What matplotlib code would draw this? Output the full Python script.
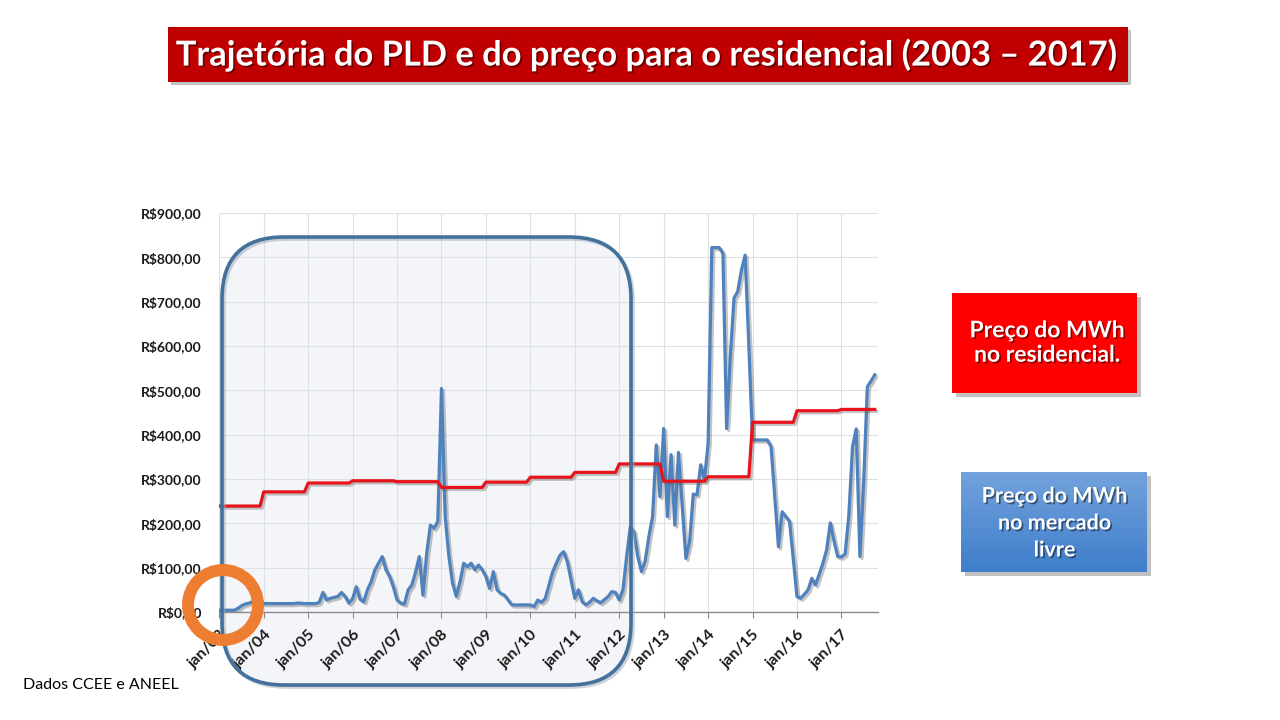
import numpy as np
import matplotlib.pyplot as plt
import matplotlib.patheffects as pe
from matplotlib.patches import FancyBboxPatch, Rectangle, Circle
from matplotlib.transforms import ScaledTranslation

plt.rcParams['font.family'] = ['Lato', 'DejaVu Sans']

# PLD medio mensal (R$/MWh), jan/03 a out/17
pld_2003 = [4, 4, 4, 4, 4, 8, 14, 18, 20, 23, 27, 25]
pld_2004 = [19, 19, 19, 19, 19, 19, 19, 19, 19, 20, 20, 19]
pld_2005 = [19, 19, 19, 22, 44, 27, 31, 33, 35, 44, 35, 20]
pld_2006 = [30, 57, 29, 23, 50, 68, 95, 110, 125, 95, 80, 57]
pld_2007 = [27, 20, 18, 50, 61, 90, 125, 38, 132, 196, 189, 204]
pld_2008 = [504, 215, 125, 65, 35, 68, 110, 102, 110, 95, 106, 95]
pld_2009 = [80, 53, 91, 50, 42, 38, 27, 16, 16, 16, 16, 16]
pld_2010 = [16, 12, 27, 22, 30, 60, 90, 110, 128, 136, 113, 72]
pld_2011 = [31, 50, 23, 16, 22, 31, 25, 21, 28, 35, 46, 44]
pld_2012 = [27, 50, 125, 192, 181, 125, 91, 115, 170, 215, 377, 260]
pld_2013 = [414, 215, 355, 196, 360, 240, 121, 159, 266, 264, 332, 298]
pld_2014 = [380, 822, 822, 822, 809, 414, 576, 708, 723, 771, 805, 600]
pld_2015 = [388, 388, 388, 388, 388, 373, 260, 147, 226, 215, 204, 120]
pld_2016 = [35, 31, 40, 50, 76, 61, 85, 110, 140, 201, 160, 125]
pld_2017 = [124, 131, 218, 373, 413, 125, 292, 508, 521, 535]

pld = (pld_2003 + pld_2004 + pld_2005 + pld_2006 + pld_2007 + pld_2008 + pld_2009
       + pld_2010 + pld_2011 + pld_2012 + pld_2013 + pld_2014 + pld_2015 + pld_2016 + pld_2017)

# preco medio do MWh residencial, um valor por ano (2003 a 2017)
tarifa_res = [239, 271, 291, 296, 294, 281, 293, 304, 315, 334, 295, 305, 428, 454, 457]

rotulos_x = ['jan/03', 'jan/04', 'jan/05', 'jan/06', 'jan/07', 'jan/08', 'jan/09', 'jan/10',
             'jan/11', 'jan/12', 'jan/13', 'jan/14', 'jan/15', 'jan/16', 'jan/17']
valores_y = [0, 100, 200, 300, 400, 500, 600, 700, 800, 900]
rotulos_y = ['R$0,00', 'R$100,00', 'R$200,00', 'R$300,00', 'R$400,00',
             'R$500,00', 'R$600,00', 'R$700,00', 'R$800,00', 'R$900,00']

titulo = 'Trajetória do PLD e do preço para o residencial (2003 – 2017)'

meses = np.arange(len(pld))
residencial = np.repeat(tarifa_res, 12)[:len(pld)]

W, H = 1280, 720
fig = plt.figure(figsize=(W / 100, H / 100), dpi=100)
pol = fig.dpi_scale_trans


def ret(x, y, w, h):
    # pixels (origem no topo) -> polegadas (origem embaixo)
    return x / 100, (H - y - h) / 100, w / 100, h / 100


def fx(x, y):
    return x / W, 1 - y / H


sombra_txt = [pe.SimplePatchShadow(offset=(1.2, -1.2), shadow_rgbFace='black', alpha=0.45), pe.Normal()]
sombra_linha = [pe.SimpleLineShadow(offset=(1.5, -1.5), shadow_color='#555555', alpha=0.35), pe.Normal()]

# titulo
x0, y0, w0, h0 = ret(168, 27, 960, 55)
fig.add_artist(Rectangle((x0 + 0.03, y0 - 0.03), w0, h0, transform=pol, facecolor='#888888',
                         alpha=0.5, edgecolor='none', zorder=2))
fig.add_artist(Rectangle((x0, y0), w0, h0, transform=pol, facecolor='#C00000', edgecolor='none', zorder=2))
fig.text(*fx(647, 55), titulo, color='white', fontsize=24.8, fontweight='bold',
         ha='center', va='center', zorder=3, path_effects=sombra_txt)

# caixa arredondada (fundo atras do grafico)
bx, by, bw, bh = ret(222, 237, 409, 448)
fig.add_artist(FancyBboxPatch((bx, by), bw, bh, boxstyle='round,pad=0,rounding_size=0.62',
                              transform=pol, facecolor='#F3F5F8', edgecolor='none', zorder=-1))

# grafico
ax = fig.add_axes([219.3 / W, 1 - 612 / H, (877.7 - 219.3) / W, (612 - 213) / H])
ax.set_facecolor('none')
ax.plot(meses, pld, color='#4F81BD', lw=2.3, solid_joinstyle='round', path_effects=sombra_linha, zorder=3)
ax.plot(meses, residencial, color='#E8141B', lw=2.3, solid_joinstyle='round', path_effects=sombra_linha, zorder=3)

ax.set_xlim(0, len(pld) - 0.2)
ax.set_ylim(0, 900)
ax.set_xticks(np.arange(0, len(pld), 12))
ax.set_xticklabels(rotulos_x, rotation=45, ha='right', va='top', rotation_mode='anchor',
                   fontsize=11.5, fontweight='bold', color='#1A1A1A')
desloc = ScaledTranslation(4 / 100, 0, fig.dpi_scale_trans)
for rot in ax.get_xticklabels():
    rot.set_transform(rot.get_transform() + desloc)
ax.set_yticks(valores_y)
ax.set_yticklabels(rotulos_y, fontsize=10, fontweight='bold', color='#1A1A1A')
ax.tick_params(axis='y', length=0, pad=12.5)
ax.tick_params(axis='x', length=4, width=0.8, color='#888888', pad=7.5)
ax.grid(True, color='#DDE0E5', lw=0.8)
ax.set_axisbelow(True)
for lado in ['top', 'right', 'left']:
    ax.spines[lado].set_visible(False)
ax.spines['bottom'].set_color('#8C8C8C')
ax.spines['bottom'].set_linewidth(1)

# contorno da caixa arredondada
fig.add_artist(FancyBboxPatch((bx + 0.02, by - 0.02), bw, bh, boxstyle='round,pad=0,rounding_size=0.62',
                              transform=pol, facecolor='none', edgecolor='#9AA5B5', lw=2.6, alpha=0.5, zorder=4))
fig.add_artist(FancyBboxPatch((bx, by), bw, bh, boxstyle='round,pad=0,rounding_size=0.62',
                              transform=pol, facecolor='none', edgecolor='#44709C', lw=2.6, zorder=4))

# circulo laranja
fig.add_artist(Circle((2.23, (H - 605) / 100), 0.35, transform=pol, fill=False,
                      edgecolor='#ED7D31', lw=8.6, zorder=6))

# caixa vermelha
rx, ry, rw, rh = ret(952, 293, 185, 100)
fig.add_artist(Rectangle((rx + 0.04, ry - 0.04), rw, rh, transform=pol, facecolor='#777777',
                         alpha=0.45, edgecolor='none', zorder=2))
fig.add_artist(Rectangle((rx, ry), rw, rh, transform=pol, facecolor='#FF0000', edgecolor='none', zorder=2))
fig.text(*fx(1047, 343), 'Preço do MWh\nno residencial.', color='white', fontsize=16.5,
         fontweight='bold', ha='center', va='center', linespacing=1.2, zorder=3, path_effects=sombra_txt)

# caixa azul com degrade
ax_b = fig.add_axes([961 / W, 1 - 572 / H, 186 / W, 100 / H])
fig.add_artist(Rectangle((961 / 100 + 0.04, (H - 572) / 100 - 0.04), 1.86, 1.0, transform=pol,
                         facecolor='#777777', alpha=0.45, edgecolor='none', zorder=-0.5))
grad = np.linspace(0, 1, 100).reshape(-1, 1)
topo = np.array([0x72, 0xA2, 0xDD]) / 255
base = np.array([0x3F, 0x7E, 0xCA]) / 255
img = topo + (base - topo) * grad[:, :, None]
ax_b.imshow(img, aspect='auto', extent=(0, 1, 0, 1))
ax_b.axis('off')
fig.text(*fx(1054.5, 523), 'Preço do MWh\nno mercado\nlivre', color='white', fontsize=15.5,
         fontweight='bold', ha='center', va='center', linespacing=1.35, zorder=7, path_effects=sombra_txt)

# fonte
fig.text(*fx(23, 685), 'Dados CCEE e ANEEL', color='black', fontsize=11.5, ha='left', va='center')

fig.savefig('out.png', dpi=100)
